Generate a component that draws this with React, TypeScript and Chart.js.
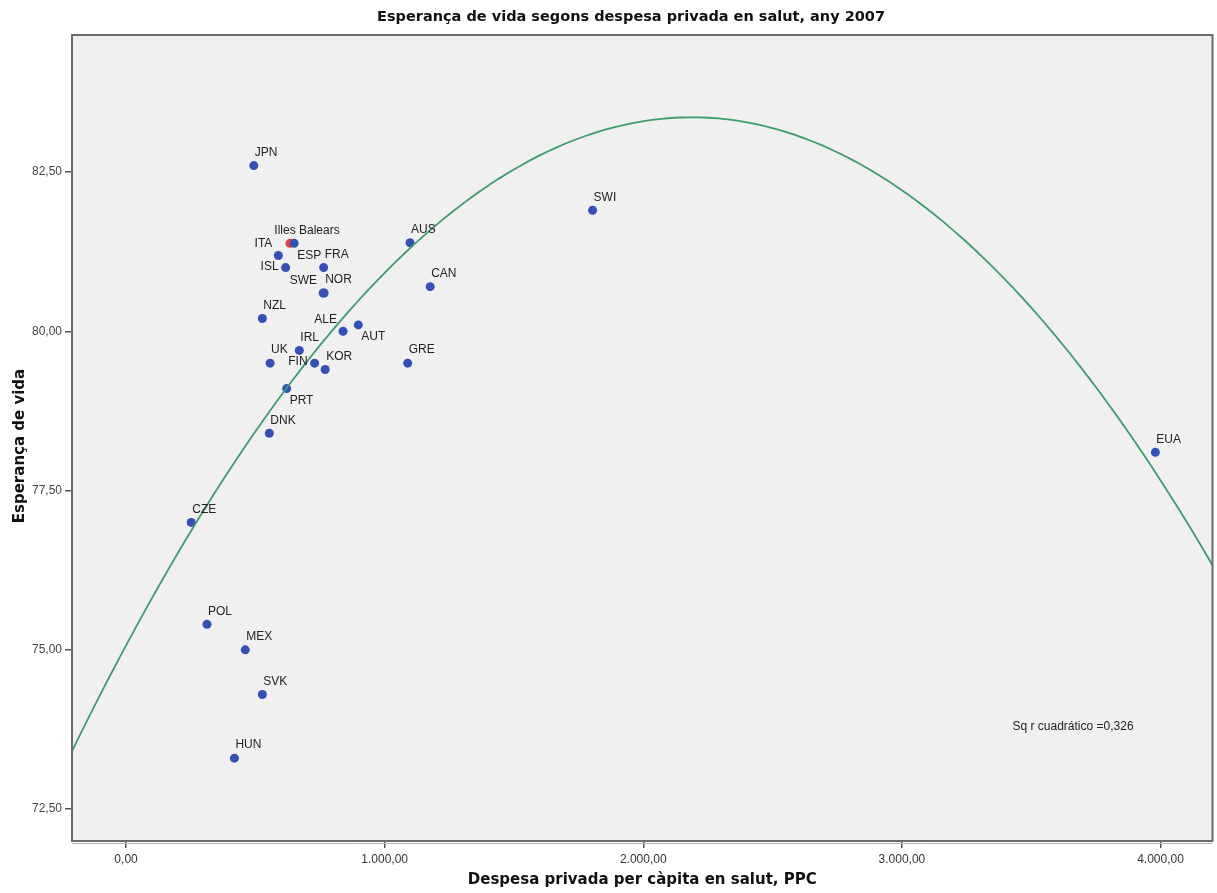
import React, { useEffect, useRef } from 'react';
import { Chart, registerables } from 'chart.js';

Chart.register(...registerables);

const TITLE = 'Esperança de vida segons despesa privada en salut, any 2007';
const X_TITLE = 'Despesa privada per càpita en salut, PPC';
const Y_TITLE = 'Esperança de vida';
const R2_TEXT = 'Sq r cuadrático =0,326';

// Countries (OECD codes as in the source chart)
const countries = ['JPN', 'ESP', 'ITA', 'ISL', 'FRA', 'SWE', 'NOR', 'NZL', 'AUS', 'CAN', 'AUT', 'ALE', 'IRL', 'UK', 'FIN', 'KOR', 'GRE', 'PRT', 'DNK', 'CZE', 'POL', 'MEX', 'SVK', 'HUN', 'SWI', 'EUA'];
const spending = [494, 650, 589, 617, 764, 762, 766, 527, 1098, 1176, 898, 839, 670, 557, 729, 770, 1089, 621, 554, 252, 313, 461, 527, 419, 1804, 3980];
const lifeExp = [82.6, 81.38, 81.19, 81.0, 81.0, 80.6, 80.6, 80.2, 81.39, 80.7, 80.1, 80.0, 79.7, 79.5, 79.5, 79.4, 79.5, 79.1, 78.4, 77.0, 75.4, 75.0, 74.3, 73.3, 81.9, 78.1];
const labelPlacement = ['ur', 'dr', 'ul', 'l', 'ur', 'ul', 'ur', 'ur', 'ur', 'ur', 'dr', 'ul', 'ur', 'ur', 'l', 'ur', 'ur', 'dr', 'ur', 'ur', 'ur', 'ur', 'ur', 'ur', 'ur', 'ur'];

// Highlighted region
const regionNames = ['Illes Balears'];
const regionSpending = [634];
const regionLifeExp = [81.38];
const regionPlacement = ['uc'];

const xTicks = [0, 1000, 2000, 3000, 4000];
const yTicks = [72.5, 75, 77.5, 80, 82.5];
const xMin = -209;
const xMax = 4201;
const yMin = 72.0;
const yMax = 84.65;

// Quadratic fit
const fitA = 75.07;
const fitB = 0.00758;
const fitC = -1.733e-6;
const fitSteps = 120;

const PLACE: Record<string, { dx: number; dy: number; align: CanvasTextAlign }> = {
  ur: { dx: 1, dy: -13, align: 'left' },
  ul: { dx: -6, dy: -12, align: 'right' },
  l: { dx: -7, dy: -1, align: 'right' },
  dr: { dx: 3, dy: 12, align: 'left' },
  uc: { dx: 17, dy: -13, align: 'center' },
};

function fmt(v: number): string {
  const [i, d] = Math.abs(v).toFixed(2).split('.');
  const ii = i.replace(/\B(?=(\d{3})+(?!\d))/g, '.');
  return (v < 0 ? '-' : '') + ii + ',' + d;
}

const decor = {
  id: 'decor',
  beforeDraw(chart: any) {
    const { ctx, chartArea: a } = chart;
    ctx.save();
    ctx.fillStyle = '#ffffff';
    ctx.fillRect(0, 0, chart.width, chart.height);
    ctx.fillStyle = '#f0f0f0';
    ctx.fillRect(a.left, a.top, a.right - a.left, a.bottom - a.top);
    ctx.restore();
  },
  afterDatasetsDraw(chart: any) {
    const { ctx, scales } = chart;
    const xs = scales.x;
    const ys = scales.y;
    ctx.save();
    ctx.font = '12px "Liberation Sans", Arial, sans-serif';
    ctx.fillStyle = '#222';
    ctx.textBaseline = 'middle';
    const draw = (name: string, xv: number, yv: number, code: string) => {
      const p = PLACE[code] || PLACE.ur;
      const px = xs.getPixelForValue(xv);
      const py = ys.getPixelForValue(yv);
      ctx.textAlign = p.align;
      ctx.fillText(name, px + p.dx, py + p.dy);
    };
    countries.forEach((c, i) => draw(c, spending[i], lifeExp[i], labelPlacement[i]));
    regionNames.forEach((c, i) => draw(c, regionSpending[i], regionLifeExp[i], regionPlacement[i]));
    ctx.restore();
  },
  afterDraw(chart: any) {
    const { ctx, chartArea: a } = chart;
    ctx.save();
    // frame
    ctx.strokeStyle = '#6a6a6a';
    ctx.lineWidth = 2;
    ctx.strokeRect(a.left, a.top, a.right - a.left, a.bottom - a.top);
    ctx.strokeStyle = '#b5b5b5';
    ctx.lineWidth = 1;
    ctx.beginPath();
    ctx.moveTo(a.left, a.bottom + 2.5);
    ctx.lineTo(a.right, a.bottom + 2.5);
    ctx.stroke();

    // main title
    ctx.fillStyle = '#111';
    ctx.textAlign = 'center';
    ctx.textBaseline = 'middle';
    ctx.font = 'bold 14.5px "DejaVu Sans", sans-serif';
    ctx.fillText(TITLE, 631, 17);

    // x title
    ctx.font = 'bold 15px "DejaVu Sans", sans-serif';
    ctx.fillText(X_TITLE, (a.left + a.right) / 2, 880);

    // y title
    ctx.save();
    ctx.translate(20, 446);
    ctx.rotate(-Math.PI / 2);
    ctx.fillText(Y_TITLE, 0, 0);
    ctx.restore();

    // R squared note
    ctx.font = '12px "Liberation Sans", Arial, sans-serif';
    ctx.fillStyle = '#222';
    ctx.textAlign = 'left';
    ctx.fillText(R2_TEXT, a.right - 200, a.bottom - 114);
    ctx.restore();
  },
};

export default function App() {
  const ref = useRef<HTMLCanvasElement | null>(null);

  useEffect(() => {
    document.body.style.margin = '0';
    const canvas = ref.current;
    if (!canvas) return;

    const fitPts: { x: number; y: number }[] = [];
    for (let k = 0; k <= fitSteps; k++) {
      const x = xMin + ((xMax - xMin) * k) / fitSteps;
      fitPts.push({ x, y: fitA + fitB * x + fitC * x * x });
    }

    const tickFont = { family: '"Liberation Sans", Arial, sans-serif', size: 12 };

    const chart = new Chart(canvas, {
      type: 'scatter',
      data: {
        datasets: [
          {
            type: 'line',
            label: 'Quadràtic',
            data: fitPts,
            borderColor: '#3f9c6d',
            borderWidth: 1.8,
            pointRadius: 0,
            fill: false,
            tension: 0,
          } as any,
          {
            label: 'Països',
            data: countries.map((_, i) => ({ x: spending[i], y: lifeExp[i] })),
            backgroundColor: '#3450b4',
            borderColor: '#3450b4',
            borderWidth: 0,
            pointRadius: 4.5,
          },
          {
            label: 'Illes Balears',
            data: regionNames.map((_, i) => ({ x: regionSpending[i], y: regionLifeExp[i] })),
            backgroundColor: '#e0403a',
            borderColor: '#e0403a',
            borderWidth: 0,
            pointRadius: 4.5,
          },
        ],
      },
      options: {
        animation: false,
        responsive: false,
        devicePixelRatio: 1,
        layout: { padding: { top: 35, right: 4, left: 0, bottom: 0 } },
        plugins: {
          legend: { display: false },
          tooltip: { enabled: false },
          title: { display: false },
        },
        scales: {
          x: {
            type: 'linear',
            min: xMin,
            max: xMax,
            afterBuildTicks: (axis: any) => {
              axis.ticks = xTicks.map((v) => ({ value: v }));
            },
            afterFit: (axis: any) => {
              axis.height = 52;
            },
            ticks: {
              callback: (v: any) => fmt(Number(v)),
              font: tickFont,
              color: '#333',
              padding: 4,
              maxRotation: 0,
              autoSkip: false,
            },
            grid: { drawOnChartArea: false, drawTicks: true, tickLength: 7, color: '#555', lineWidth: 1.5 },
            border: { display: false },
          },
          y: {
            type: 'linear',
            min: yMin,
            max: yMax,
            afterBuildTicks: (axis: any) => {
              axis.ticks = yTicks.map((v) => ({ value: v }));
            },
            afterFit: (axis: any) => {
              axis.width = 72;
            },
            ticks: {
              callback: (v: any) => fmt(Number(v)),
              font: tickFont,
              color: '#444',
              padding: 3,
              autoSkip: false,
            },
            grid: { drawOnChartArea: false, drawTicks: true, tickLength: 7, color: '#555', lineWidth: 1.5 },
            border: { display: false },
          },
        },
      } as any,
      plugins: [decor],
    });

    return () => chart.destroy();
  }, []);

  return <canvas ref={ref} width={1217} height={893} style={{ display: 'block' }} />;
}
